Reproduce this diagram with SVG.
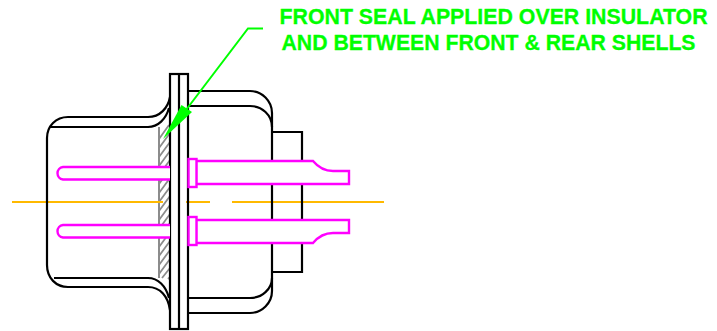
<svg xmlns="http://www.w3.org/2000/svg" width="717" height="331" viewBox="0 0 717 331">
<style>
.k{fill:none;stroke:#000;stroke-width:2.2}
.m{fill:#fff;stroke:#ff00ff;stroke-width:2.4}
.o{fill:none;stroke:#ffb900;stroke-width:2}
.h{stroke:#8c8c8c;stroke-width:2;fill:none}
.t{font-family:"Liberation Sans",Arial,sans-serif;font-weight:bold;font-size:22px;fill:#00ff00;stroke:#00ff00;stroke-width:.3}
</style>
<rect width="717" height="331" fill="#fff"/>
<g id="seal">
<path class="h" d="M159,127V278"/>
<path d="M159,139L169,125M159,148L170,133M159,157L170,142M159,166L170,151M159,175L170,160M159,184L170,169M159,193L170,178M159,202L170,187M159,211L170,196M159,220L170,205M159,229L170,214M159,238L170,223M159,247L170,232M159,256L170,241M159,265L170,250M159,274L170,259M162,278L170,268M168,279L170,277" fill="none" stroke="#8c8c8c" stroke-width="1.800"/>
</g>
<g id="centerline">
<path class="o" d="M12,202H163M186,202H210M232,202H384"/>
</g>
<g id="front-shell">
<path class="k" d="M170,97C168,108 160,117 148,117H68C56,117 47,126 47,138V265C47,278 56,287 68,287H148C160,287 168,296 170,310"/>
<path class="k" d="M169,108C166,119 158,127 148,127H50M54,278H148C158,278 166,286 169,298"/>
</g>
<g id="rear-shell">
<path class="k" d="M188,91H250C262,91 272,101 272,113V291C272,303 262,313 250,313H188"/>
<path class="k" d="M188,106H250C262,106 272,115 272,127M272,278C272,289 262,298 250,298H188"/>
<path class="k" d="M272,132H302V272H272"/>
</g>
<g id="flange">
<rect class="k" x="170" y="74" width="18" height="255"/>
<path class="k" d="M179,74V329"/>
</g>
<g id="pin-upper-left"><path class="m" d="M170,167H63A6.300,6.300 0 0 0 63,179.500H170"/></g>
<g id="pin-lower-left"><path class="m" d="M170,225H63A6.300,6.300 0 0 0 63,237.500H170"/></g>
<g id="pin-upper-right">
<path class="m" d="M196,161H313C318,167 324,171 333,171H349V184H196Z"/>
<rect class="m" x="188.500" y="159" width="8" height="28"/>
</g>
<g id="pin-lower-right">
<path class="m" d="M196,220H349V233H333C324,233 318,237 313,243H196Z"/>
<rect class="m" x="188.500" y="217" width="8" height="28"/>
</g>
<g id="leader">
<path d="M263,28.500H248L186,110" fill="none" stroke="#00ff00" stroke-width="2"/>
<path d="M163,139L181.500,105L192,112Z" fill="#00ff00"/>
</g>
<g id="label">
<text class="t" transform="translate(279.500,24) scale(.97,1)">FRONT SEAL APPLIED OVER INSULATOR</text>
<text class="t" transform="translate(281.500,50) scale(.966,1)">AND BETWEEN FRONT &amp; REAR SHELLS</text>
</g>
</svg>
